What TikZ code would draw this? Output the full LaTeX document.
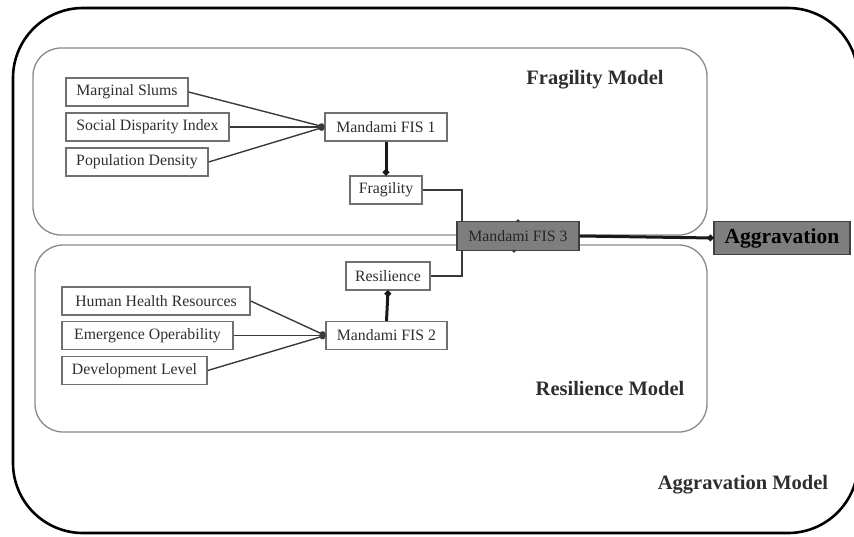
\documentclass[tikz,border=0pt]{standalone}
\usepackage{fontspec}
\setmainfont{Liberation Serif}
\usetikzlibrary{arrows.meta}
\definecolor{txt}{HTML}{2E2E2E}
\definecolor{frame}{HTML}{8A8A8A}
\definecolor{boxline}{HTML}{707070}
\definecolor{fisfill}{HTML}{7E7E7E}
\definecolor{conn}{HTML}{3A3A3A}
\tikzset{
  inbox/.style={draw=boxline, line width=1.3pt, fill=white, text=txt, inner sep=0pt,
    minimum height=28pt, font=\fontsize{15.8}{17}\selectfont},
  modelframe/.style={draw=frame, line width=1.3pt, rounded corners=28pt},
  modellabel/.style={text=txt, font=\fontsize{20.5}{22}\selectfont\bfseries},
  thin conn/.style={draw=conn, line width=1.4pt},
  thick conn/.style={draw=black!90, line width=3pt},
  dot/.style={-{Circle[length=6pt,width=6pt]}},
  graybox/.style={draw=black!75, line width=1.2pt, fill=fisfill, inner sep=0pt}
}
\begin{document}
\begin{tikzpicture}[x=1pt,y=-1pt]
\useasboundingbox (0,0) rectangle (854,536);
% outer frame
\draw[line width=2.6pt, rounded corners=70pt] (13,8) rectangle (858,533);
% model frames
\draw[modelframe] (33,48) rectangle (707,235);
\draw[modelframe] (35,245) rectangle (707,432);
% labels
\node[modellabel] (lfrag) at (595,80) {Fragility Model};
\node[modellabel] (lres) at (610,388) {Resilience Model};
\node[modellabel] (lagg) at (743,485) {Aggravation Model};
% fragility inputs
\node[inbox, minimum width=122pt] (ms) at (127,92) {Marginal Slums};
\node[inbox, minimum width=163pt] (sdi) at (147.5,127) {Social Disparity Index};
\node[inbox, minimum width=142pt] (pd) at (137,162) {Population Density};
\node[inbox, minimum width=122pt] (f1) at (386,127) {Mandami FIS 1};
\node[inbox, minimum width=72pt] (frag) at (386,190) {Fragility};
% resilience inputs
\node[inbox, minimum width=188pt] (hhr) at (156,301) {Human Health Resources};
\node[inbox, minimum width=171pt] (eo) at (147.5,335.5) {Emergence Operability};
\node[inbox, minimum width=145pt] (dl) at (134.5,370.5) {Development Level};
\node[inbox, minimum width=121pt] (f2) at (386.5,335.5) {Mandami FIS 2};
\node[inbox, minimum width=84pt] (res) at (388,276) {Resilience};
% FIS 3 and output
\node[graybox, minimum width=122pt, minimum height=29pt, text=black!85,
  font=\fontsize{15.8}{17}\selectfont] (f3) at (518,236) {Mandami FIS 3};
\node[graybox, minimum width=136pt, minimum height=33pt, text=black,
  font=\fontsize{21.5}{23}\selectfont\bfseries] (agg) at (782,238) {Aggravation};
% connectors fragility
\draw[thin conn, dot] (ms.east) -- (f1.west);
\draw[thin conn, dot] (sdi.east) -- (f1.west);
\draw[thin conn, dot] (pd.east) -- (f1.west);
\draw[thick conn, dot] (f1.south) -- (frag.north);
% connectors resilience
\draw[thin conn, dot] (hhr.east) -- (f2.west);
\draw[thin conn, dot] (eo.east) -- (f2.west);
\draw[thin conn, dot] (dl.east) -- (f2.west);
\draw[thick conn, dot] (f2.north) -- (res.south);
% into FIS 3
\coordinate (f3in1) at ([xshift=6pt]f3.north west);
\coordinate (f3in2) at ([xshift=6pt]f3.south west);
\draw[thin conn, line width=2pt] (frag.east) -| (f3in1);
\draw[thin conn, line width=2pt] (res.east) -| (f3in2);
\fill[conn] (f3.north) circle (1.8pt);
\fill[conn] ([xshift=-4pt]f3.south) circle (1.8pt);
% output
\draw[thick conn, dot] (f3.east) -- (agg.west);
\end{tikzpicture}
\end{document}
